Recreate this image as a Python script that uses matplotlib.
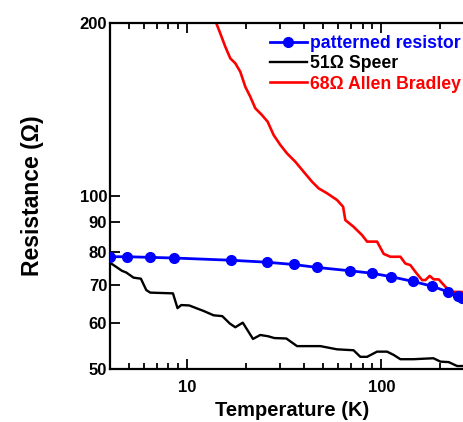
import matplotlib
matplotlib.use("Agg")
import matplotlib.pyplot as plt
from matplotlib.ticker import FixedLocator, NullFormatter, LogLocator

plt.rcParams['font.family'] = ['Liberation Sans', 'DejaVu Sans']
plt.rcParams['font.weight'] = 'bold'

# patterned resistor (points)
pat_T = [4.01, 4.92, 6.45, 8.57, 16.9, 25.7, 35.3, 46.8, 69.2, 89.1,
         111.6, 146, 181.6, 221, 248.5, 261.5, 280]
pat_R = [78.4, 78.4, 78.2, 78.0, 77.3, 76.7, 76.0, 75.1, 74.1, 73.4,
         72.4, 71.0, 69.7, 68.1, 67.0, 66.4, 65.8]

# 51 Ohm Speer
speer_T = [4.01, 4.25, 4.61, 4.85, 5.29, 5.77, 6.15, 6.45, 8.44, 8.91,
           9.31, 10.24, 11.26, 12.13, 13.67, 15.15, 16.56, 17.68, 19.32, 21.81,
           23.78, 26.15, 28.09, 32.38, 36.78, 48.5, 59.1, 71.9, 77.9, 84.4,
           95.0, 107, 115.7, 125.3, 146, 185.4, 201.4, 222.3, 245.6, 287.6]
speer_R = [76.5, 75.5, 74.1, 73.6, 72.1, 71.8, 68.6, 67.9, 67.7, 63.8,
           64.6, 64.5, 63.7, 63.1, 62.0, 61.8, 60.0, 59.1, 60.2, 56.4,
           57.3, 57.0, 56.6, 56.5, 54.8, 54.8, 54.1, 53.9, 52.5, 52.5,
           53.6, 53.6, 52.9, 52.0, 52.0, 52.2, 51.5, 51.4, 50.6, 50.6]

# 68 Ohm Allen Bradley
ab_T = [13.7, 14.79, 15.70, 16.66, 17.68, 18.76, 19.91, 21.13, 22.42, 24.27,
        25.94, 27.85, 30.16, 32.66, 36.04, 39.77, 43.93, 47.53, 52.5, 59.1,
        63.5, 65.2, 71.9, 79.5, 84.4, 95.0, 102.8, 111.3, 125.3, 132.9,
        141.1, 149.7, 162.1, 168.6, 177.4, 186.1, 197.4, 213.8, 231.4, 255.4,
        287.6]
ab_R = [205, 191.9, 181.9, 173.6, 170.2, 164.5, 154.9, 148.8, 142.1, 138.3,
        134.7, 127.7, 122.7, 118.6, 114.7, 110.2, 105.9, 103.1, 101.1, 98.4,
        95.8, 90.8, 88.4, 85.5, 83.3, 83.3, 79.3, 78.4, 78.4, 76.3,
        75.8, 73.8, 71.4, 71.4, 72.6, 71.6, 71.6, 69.5, 68.1, 68.1,
        67.8]

y_ticks = [50, 60, 70, 80, 90, 100, 200]
x_ticks = [10, 100]

fig = plt.figure(figsize=(4.64, 4.22), dpi=100)
ax = fig.add_axes([110 / 464, 53 / 422, 364 / 464, 346 / 422])

ax.plot(pat_T, pat_R, color='#0000ff', lw=2, marker='o', ms=7,
        label='patterned resistor', zorder=3)
ax.plot(speer_T, speer_R, color='black', lw=1.7, label='51Ω Speer')
ax.plot(ab_T, ab_R, color='#ff0000', lw=1.9, label='68Ω Allen Bradley')

ax.set_xscale('log')
ax.set_yscale('log')
ax.set_xlim(4, 300)
ax.set_ylim(50, 200)

ax.yaxis.set_major_locator(FixedLocator(y_ticks))
ax.yaxis.set_minor_locator(FixedLocator([]))
ax.set_yticklabels([str(v) for v in y_ticks])
ax.yaxis.set_minor_formatter(NullFormatter())

ax.xaxis.set_major_locator(FixedLocator(x_ticks))
ax.set_xticklabels([str(v) for v in x_ticks])
ax.xaxis.set_minor_locator(LogLocator(base=10, subs=range(2, 10)))
ax.xaxis.set_minor_formatter(NullFormatter())

ax.tick_params(which='both', direction='in', top=True, right=True, width=1.3,
               labelsize=12)
ax.tick_params(axis='x', pad=8)
ax.tick_params(axis='y', pad=2)
ax.tick_params(which='major', length=7)
ax.tick_params(which='minor', length=4)
for sp in ax.spines.values():
    sp.set_linewidth(1.6)

ax.set_xlabel('Temperature (K)', fontsize=14.5, fontweight='bold', labelpad=4)
ax.set_ylabel('Resistance (Ω)', fontsize=16.5, fontweight='bold', labelpad=26)

leg = ax.legend(loc='upper left', bbox_to_anchor=(0.419, 0.985), frameon=False,
                fontsize=12.7, handlelength=2.1, handletextpad=0.2,
                labelspacing=0.18, borderaxespad=0)
for txt, line in zip(leg.get_texts(), leg.get_lines()):
    txt.set_color(line.get_color())
    txt.set_fontweight('bold')

fig.savefig('out.png', dpi=100)
